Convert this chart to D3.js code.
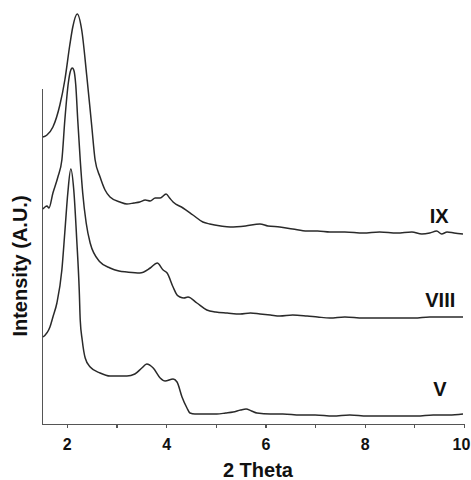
<!DOCTYPE html>
<html lang="en">
  <head>
    <meta charset="UTF-8">
    <title>XRD patterns</title>
    <style>
      body { margin: 0; background: #fff; }
      .line { fill: none; stroke: #2a2a2a; stroke-width: 1.5; }
      .axis path, .axis line { stroke: #555; stroke-width: 1.2; shape-rendering: crispEdges; }
      .axis text { font-family: "Liberation Sans", Arial, sans-serif; font-weight: bold; font-size: 16px; fill: #111; }
      .label { font-family: "Liberation Sans", Arial, sans-serif; font-weight: bold; fill: #111; }
    </style>
    <script src="https://d3js.org/d3.v7.min.js"></script>
  </head>
  <body>
    <script>
      const width = 471;
      const height = 480;
      const margin = { top: 88, right: 7, bottom: 56, left: 42 };

      // 2 theta / intensity (a.u.)
      const theta_V = [1.52, 1.66, 1.72, 1.80, 1.90, 1.96, 2.02, 2.08, 2.14, 2.20, 2.25, 2.27, 2.31, 2.37, 2.47, 2.67, 2.87, 3.05, 3.21, 3.37, 3.51, 3.61, 3.74, 3.88, 3.98, 4.14, 4.22, 4.32, 4.42, 4.48, 4.58, 4.80, 5.02, 5.20, 5.35, 5.50, 5.61, 5.72, 5.83, 6.10, 6.35, 6.70, 7.00, 7.36, 7.70, 8.05, 8.40, 8.71, 9.05, 9.38, 9.70, 9.98];
      const int_V = [87, 97, 107, 121, 154, 192, 231, 255, 234, 184, 134, 104, 84, 66, 57, 51, 48, 48, 48, 50, 56, 60, 56, 46, 43, 45, 42, 27, 16, 11, 10, 10, 10, 11, 12, 14, 15, 13, 11, 10, 10, 9, 9, 8, 9, 8, 8, 8, 8, 9, 9, 10];

      const theta_VIII = [1.52, 1.56, 1.60, 1.64, 1.72, 1.82, 1.90, 1.96, 2.03, 2.08, 2.11, 2.14, 2.18, 2.22, 2.27, 2.32, 2.39, 2.47, 2.67, 2.87, 3.05, 3.21, 3.47, 3.68, 3.82, 3.94, 4.02, 4.14, 4.22, 4.28, 4.36, 4.44, 4.62, 4.82, 5.00, 5.23, 5.49, 5.70, 5.89, 6.10, 6.29, 6.55, 6.84, 7.05, 7.30, 7.60, 7.97, 8.30, 8.65, 9.00, 9.31, 9.60, 9.98];
      const int_VIII = [215, 217, 218, 216, 231, 247, 264, 304, 341, 354, 356, 354, 339, 304, 264, 231, 201, 181, 162, 156, 153, 152, 151, 156, 161, 154, 151, 137, 129, 127, 126, 127, 121, 114, 112, 111, 110, 111, 110, 109, 108, 109, 108, 107, 106, 107, 106, 106, 106, 106, 107, 107, 107];

      const theta_IX = [1.52, 1.60, 1.72, 1.86, 1.96, 2.06, 2.12, 2.21, 2.30, 2.40, 2.50, 2.57, 2.67, 2.77, 2.87, 3.07, 3.21, 3.35, 3.47, 3.58, 3.68, 3.78, 3.88, 4.00, 4.07, 4.14, 4.34, 4.54, 4.74, 4.88, 5.10, 5.29, 5.60, 5.89, 6.05, 6.29, 6.55, 6.84, 7.05, 7.30, 7.60, 7.97, 8.30, 8.65, 8.95, 9.15, 9.31, 9.45, 9.55, 9.66, 9.80, 9.98];
      const int_IX = [287, 289, 297, 319, 344, 379, 397, 410, 394, 349, 299, 264, 247, 234, 227, 222, 220, 221, 222, 224, 223, 226, 226, 230, 226, 222, 216, 209, 202, 200, 198, 197, 198, 200, 198, 197, 195, 193, 193, 192, 192, 191, 192, 191, 192, 190, 191, 193, 190, 192, 191, 190];

      const seriesNames = ["V", "VIII", "IX"];
      const xTicks = [2, 3, 4, 5, 6, 7, 8, 9, 10];

      const series = [
        { name: seriesNames[0], theta: theta_V, intensity: int_V },
        { name: seriesNames[1], theta: theta_VIII, intensity: int_VIII },
        { name: seriesNames[2], theta: theta_IX, intensity: int_IX }
      ];

      const innerW = width - margin.left - margin.right;
      const innerH = height - margin.top - margin.bottom;

      const svg = d3.select("body")
        .append("svg")
        .attr("width", width)
        .attr("height", height)
        .append("g")
        .attr("transform", `translate(${margin.left},${margin.top})`);

      const x = d3.scaleLinear()
        .domain([1.5, 10])
        .range([0, innerW]);

      const y = d3.scaleLinear()
        .domain([0, 336])
        .range([innerH, 0]);

      const xAxis = svg.append("g")
        .attr("class", "axis axis-x")
        .attr("transform", `translate(0,${innerH})`)
        .call(d3.axisBottom(x)
          .tickValues(xTicks)
          .tickSize(4)
          .tickSizeOuter(0)
          .tickFormat(d => d % 2 === 0 ? d : ""));
      xAxis.selectAll("text")
        .attr("y", 15)
        .attr("dx", d => d === 10 ? -3 : 0);

      svg.append("g")
        .attr("class", "axis axis-y")
        .call(d3.axisLeft(y).tickValues([]).tickSizeOuter(0));

      const line = d3.line()
        .x(d => x(d[0]))
        .y(d => y(d[1]))
        .curve(d3.curveMonotoneX);

      svg.selectAll(".line")
        .data(series)
        .enter()
        .append("path")
        .attr("class", "line")
        .attr("d", s => line(d3.zip(s.theta, s.intensity)));

      // series names at the right end
      const labelX = { "V": 9.38, "VIII": 9.22, "IX": 9.31 };
      const labelY = { "V": 28, "VIII": 117, "IX": 201 };
      svg.selectAll(".series-label")
        .data(series)
        .enter()
        .append("text")
        .attr("class", "label")
        .attr("x", s => x(labelX[s.name]))
        .attr("y", s => y(labelY[s.name]))
        .style("font-size", "20px")
        .text(s => s.name);

      svg.append("text")
        .attr("class", "label")
        .attr("text-anchor", "middle")
        .attr("x", x(5.85))
        .attr("y", innerH + 53)
        .style("font-size", "20px")
        .text("2 Theta");

      svg.append("text")
        .attr("class", "label")
        .attr("text-anchor", "middle")
        .attr("transform", "rotate(-90)")
        .attr("x", -(266 - margin.top))
        .attr("y", -15)
        .style("font-size", "20px")
        .text("Intensity (A.U.)");
    </script>
  </body>
</html>
